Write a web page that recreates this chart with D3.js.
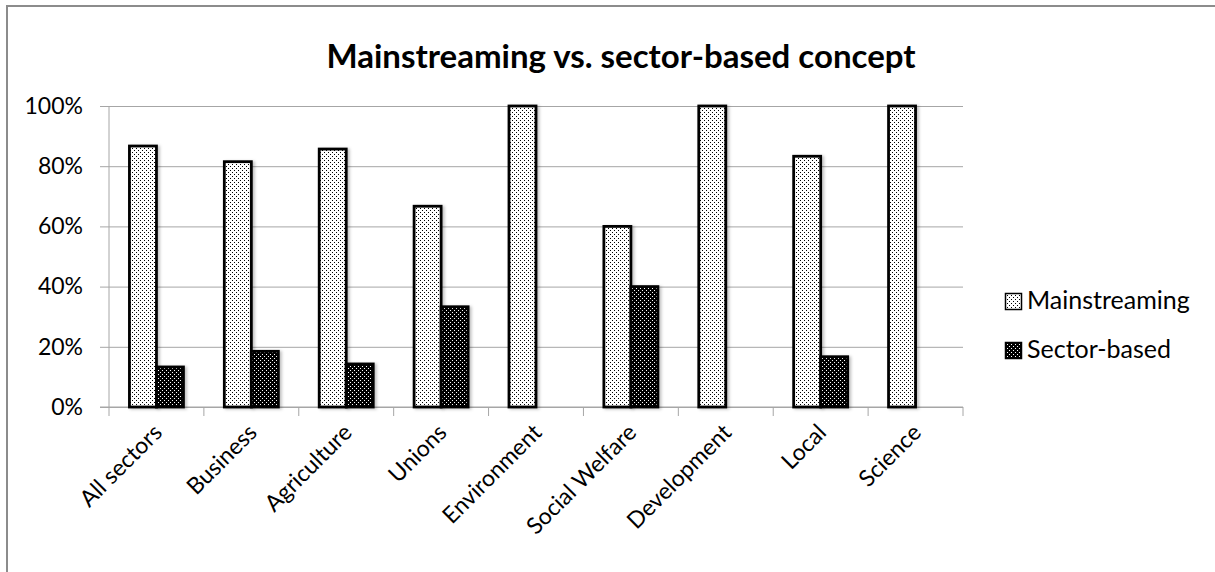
<!DOCTYPE html>
<html><head><meta charset="utf-8">
<script src="https://cdn.jsdelivr.net/npm/d3@7"></script>
<style>
body{margin:0;background:#fff}
svg{display:block}
text{font-family:Lato,"Open Sans",sans-serif;fill:#000}
</style>
</head><body>
<svg id="c" width="1215" height="572"></svg>
<script>
const categories = ["All sectors","Business","Agriculture","Unions","Environment","Social Welfare","Development","Local","Science"];
const seriesNames = ["Mainstreaming","Sector-based"];
const mainstreaming = [0.867,0.815,0.857,0.667,1.0,0.60,1.0,0.833,1.0];
const sectorBased   = [0.133,0.185,0.143,0.333,0.0,0.40,0.0,0.167,0.0];
const yTicks = [0,0.2,0.4,0.6,0.8,1.0];
const titleText = "Mainstreaming vs. sector-based concept";

const svg = d3.select("#c");
const W = 1215, H = 572;
const plot = {left:109, right:963, top:106, bottom:407};
const gridColor = "#a6a6a6";

// frame
svg.append("rect").attr("x",7).attr("y",6).attr("width",W+20).attr("height",H+20)
  .attr("fill","#fff").attr("stroke","#8c8c8c").attr("stroke-width",2);

// patterns
const defs = svg.append("defs");
function dots(id, bg, fg){
  const p = defs.append("pattern").attr("id",id).attr("patternUnits","userSpaceOnUse")
    .attr("width",4).attr("height",4);
  p.append("rect").attr("width",4).attr("height",4).attr("fill",bg);
  p.append("rect").attr("x",0).attr("y",0).attr("width",1).attr("height",1).attr("fill",fg);
  p.append("rect").attr("x",2).attr("y",2).attr("width",1).attr("height",1).attr("fill",fg);
}
dots("pLight","#fff","#000");
dots("pDark","#000","#fff");
const f = defs.append("filter").attr("id","sh").attr("x","-20%").attr("y","-20%").attr("width","150%").attr("height","150%");
f.append("feDropShadow").attr("dx",2).attr("dy",1).attr("stdDeviation",1.5).attr("flood-color","#000").attr("flood-opacity",0.25);
const fills = {"Mainstreaming":"url(#pLight)","Sector-based":"url(#pDark)"};

// scales
const x = d3.scaleBand().domain(categories).range([plot.left, plot.right]).paddingInner(0).paddingOuter(0);
const xs = d3.scaleBand().domain(seriesNames).range([0, x.bandwidth()]).paddingInner(0).paddingOuter(0.757);
const y = d3.scaleLinear().domain([0,1]).range([plot.bottom, plot.top]);

// title
svg.append("text").attr("x",621).attr("y",68).attr("text-anchor","middle")
  .attr("font-weight","bold").attr("font-size",33).text(titleText);

// gridlines + y axis
const yAxis = d3.axisLeft(y).tickValues(yTicks).tickFormat(d3.format(".0%"))
  .tickSize(-(plot.right-plot.left)).tickPadding(26);
const gy = svg.append("g").attr("transform",`translate(${plot.left},0)`).call(yAxis);
gy.select(".domain").remove();
gy.selectAll(".tick line").attr("stroke",gridColor).attr("x1",-9);
gy.selectAll(".tick text").attr("font-size",23).attr("font-family","Lato, sans-serif").attr("fill","#000");
svg.append("line").attr("x1",plot.left).attr("x2",plot.left).attr("y1",plot.top).attr("y2",plot.bottom)
  .attr("stroke",gridColor);

// x axis ticks
const bounds = categories.map(c=>x(c)).concat([plot.right]);
svg.append("line").attr("x1",plot.left-9).attr("x2",plot.right).attr("y1",plot.bottom).attr("y2",plot.bottom).attr("stroke",gridColor);
svg.append("g").selectAll("line").data(bounds).join("line")
  .attr("x1",d=>d).attr("x2",d=>d).attr("y1",plot.bottom).attr("y2",plot.bottom+9).attr("stroke",gridColor);

// bars
const rows = categories.map((c,i)=>({cat:c, vals:[{s:"Mainstreaming",v:mainstreaming[i]},{s:"Sector-based",v:sectorBased[i]}]}));
const g = svg.append("g");
rows.forEach(r=>{
  r.vals.filter(d=>d.v>0).forEach(d=>{
    g.append("rect")
      .attr("x",x(r.cat)+xs(d.s)).attr("width",xs.bandwidth())
      .attr("y",y(d.v)).attr("height",y(0)-y(d.v))
      .attr("fill",fills[d.s]).attr("stroke","#000").attr("stroke-width",2.8)
      .attr("filter","url(#sh)");
  });
});

// x labels
svg.append("g").selectAll("text").data(categories).join("text")
  .attr("text-anchor","end").attr("font-size",23)
  .attr("transform",d=>`translate(${x(d)+x.bandwidth()/2+7},${plot.bottom+27}) rotate(-45)`)
  .text(d=>d);

// legend
const leg = svg.append("g").attr("transform","translate(1005,293)");
seriesNames.forEach((s,i)=>{
  const gg = leg.append("g").attr("transform",`translate(0,${i*49})`);
  gg.append("rect").attr("x",0.5).attr("y",0.5).attr("width",16).attr("height",16)
    .attr("fill",fills[s]).attr("stroke","#000").attr("stroke-width",1.5);
  gg.append("text").attr("x",22).attr("y",16).attr("font-size",25).text(s);
});
</script>
</body></html>
